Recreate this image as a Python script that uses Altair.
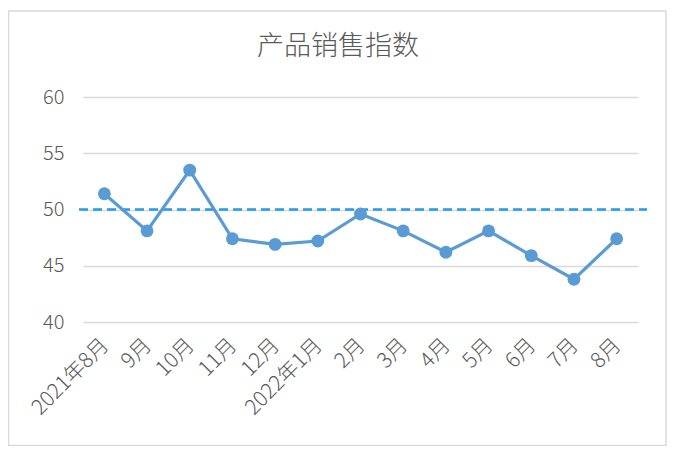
import altair as alt
import pandas as pd

months = ["2021年8月", "9月", "10月", "11月", "12月", "2022年1月", "2月", "3月", "4月", "5月", "6月", "7月", "8月"]
values = [51.4, 48.1, 53.5, 47.4, 46.9, 47.2, 49.6, 48.1, 46.2, 48.1, 45.9, 43.8, 47.4]
y_ticks = [40, 45, 50, 55, 60]
reference_level = 50
title_text = "产品销售指数"

FONT = "Noto Sans CJK SC"
W, H = 555, 225

df = pd.DataFrame({"month": months, "value": values})

x = alt.X("month:N", sort=None, title=None,
          scale=alt.Scale(type="point", padding=0.5),
          axis=alt.Axis(labelAngle=-45, labelAlign="right", labelBaseline="top",
                        labelFontSize=21, labelColor="#595959", labelFont=FONT,
                        labelFontWeight=300, labelOffset=-7,
                        labelPadding=12, ticks=False, domain=False, grid=False,
                        labelOverlap=False))
y = alt.Y("value:Q", title=None,
          scale=alt.Scale(domain=[40, 60], nice=False, zero=False),
          axis=alt.Axis(values=y_ticks, labelFontSize=20, labelColor="#595959",
                        labelFont=FONT, labelFontWeight=300,
                        labelPadding=19, ticks=False, domain=False,
                        gridColor="#d9d9d9", gridWidth=1.5))

line = alt.Chart(df).mark_line(color="#5b9bd5", strokeWidth=3.2).encode(x=x, y=y)
pts = alt.Chart(df).mark_circle(color="#5b9bd5", size=165, opacity=1).encode(x=x, y=y)

ref = alt.Chart(pd.DataFrame({"v": [reference_level]})).mark_rule(
    color="#1f9bef", strokeWidth=2.5, strokeDash=[9, 5]
).encode(y=alt.Y("v:Q"), x=alt.value(-4), x2=alt.value(564))

border = alt.Chart(alt.Data(values=[{}])).mark_rect(
    fill=None, stroke="#d9d9d9", strokeWidth=1.5
).encode(x=alt.value(-74.5), x2=alt.value(583), y=alt.value(-86), y2=alt.value(348.5))

title = alt.Chart(pd.DataFrame({"t": [title_text]})).mark_text(
    font=FONT, fontSize=27, fontWeight=300, color="#595959", align="center", baseline="middle"
).encode(text="t:N", x=alt.value(255), y=alt.value(-50))

chart = alt.layer(border, title, ref, line, pts).properties(
    width=W, height=H,
    autosize=alt.AutoSizeParams(type="none"),
    padding={"left": 75, "top": 89, "right": 30, "bottom": 124},
    background="white",
).configure_view(stroke=None)

chart.save("out.html", embed_options={"renderer": "svg", "actions": False})
